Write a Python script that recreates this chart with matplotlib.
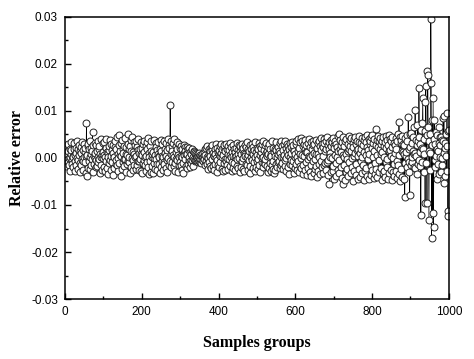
import matplotlib
matplotlib.use("Agg")
import matplotlib.pyplot as plt
import numpy as np
from matplotlib.ticker import MultipleLocator

# relative error per sample group, in units of 1e-4
rel_err_1e4 = [
    12, 5, -18, -3, 25, 8, -9, 14, 30, -1, -15, 2, 20, -27, 9, 34, 16, -5, -12, 4,
    -20, 3, 18, 31, -7, -28, 6, 22, 11, -16, 36, 0, -24, -4, 19, 28, 7, -30, -11, 15,
    24, -14, 10, -2, 33, 17, -26, -6, 29, 1, -8, 13, 21, -33, 4, 74, -38, 6, 26, -21,
    30, -7, 18, 2, -24, 35, 8, -16, 22, -2, 14, 55, -29, 27, -12, 5, 32, 0, 11, -20,
    -5, 28, 15, -18, 37, -9, 3, 20, -3, 26, 9, -31, 1, 40, -14, 6, -26, 12, 31, -1,
    7, -19, 34, 2, -28, -6, 21, 41, 13, -22, 10, 2, -34, 16, 25, -10, 38, -4, 4, 30,
    -25, 17, -8, 27, -36, 11, 3, 1, -21, 24, 36, -13, -4, 19, 45, -15, 8, 0, -27, -11,
    48, 28, 6, 14, -38, 5, 31, -24, 39, -9, 20, 10, -2, 26, -17, 42, -3, 23, -29, 9,
    -13, 7, 30, 52, -6, -8, 18, 3, -33, 25, -19, 38, 15, -1, 44, 12, -26, -5, 33, 9,
    -16, 27, 2, -24, 36, 4, -14, 23, -7, 40, 16, -7, -25, 11, -2, 19, 8, -28, 34, -33,
    22, 6, -11, 29, -4, 13, 37, -16, 1, 5, -27, 25, -9, 33, 18, -20, 43, -35, 11, 3,
    26, -6, 15, 35, -29, 3, -18, 8, 12, -31, 39, -10, 0, 7, -24, 31, -3, 24, 17, -12,
    -26, 9, 33, -13, 5, 1, -32, 20, 38, -19, 14, -7, 30, 5, -25, 2, -8, 36, -12, 19,
    10, -22, 32, 4, -5, -30, 16, 40, -1, 28, -15, 21, -6, 113, 35, 8, -20, 26, -9, 14,
    31, 6, -17, 40, 2, -28, -11, 25, 13, -3, 34, -4, 18, -30, 7, 2, -16, 30, -8, 21,
    -14, 26, 4, -25, 1, 19, -10, -33, 11, 6, 28, -2, 23, 15, -18, 9, -22, 8, 24, -12,
    18, -5, 22, 2, -6, 13, -20, 9, -10, 16, -4, 20, 3, -17, 14, -2, 12, -7, 11, -4,
    -5, 8, -3, 6, 1, -9, 4, 10, -6, 2, -8, 7, -2, 5, -10, 3, 9, -4, 1, -7,
    6, 12, -2, 18, 7, -15, 22, -6, 3, 25, -12, 0, -24, 9, 20, -8, 14, 4, -17, 23,
    -21, 16, -3, 28, 10, -18, 5, 5, -26, 19, -13, 8, 30, -1, -30, 21, -5, 12, -16, 8,
    17, -20, 4, 25, -9, 29, 11, -23, 1, 18, -28, 6, 22, -11, 27, -3, 14, -25, 30, -7,
    0, 20, -15, 9, -24, 26, 16, -3, 31, 7, -18, 2, 23, -27, 12, -8, 28, 5, -21, 19,
    -10, 13, 3, -26, 21, 5, -17, 32, -2, 17, -22, 8, 27, -1, 14, -30, 25, 8, -19, 29,
    -6, 18, -24, 22, 0, 10, -27, 9, 28, 4, -13, 24, -14, 1, 33, -25, 6, 19, -4, 15,
    -18, 27, -31, 2, 20, -4, 11, 30, -22, 9, 23, -8, 16, -28, 3, 34, -19, 12, -7, 21,
    7, -23, 18, -2, 31, -15, 6, 26, -29, 13, 22, -8, 0, 29, -20, 1, 35, -11, 17, -12,
    28, -3, 10, 32, -18, 14, 4, -30, 24, 8, -21, 30, -10, 2, 19, -27, 9, 5, -15, 36,
    -6, 21, -23, 13, -32, 20, 4, -25, 33, -12, 17, 1, -19, 9, 24, -9, 14, -7, 31, -22,
    11, 35, -16, 2, 26, -11, 3, 16, -24, 29, 7, -18, 36, -5, 21, -28, 0, 30, 12, -20,
    25, 6, -35, 18, 3, 32, -13, 24, -4, 10, 34, -16, 19, -6, 28, -31, 15, 2, -22, 9,
    29, -12, 37, 2, -25, 14, 41, -6, 22, -30, 8, 33, -17, 43, 0, -21, 6, 36, -34, 25,
    -15, 30, 4, 20, -26, 38, -9, 27, 12, -36, 13, 31, -2, -22, 4, 40, -29, 24, 1, -14,
    34, -38, 18, 6, 28, -6, 35, -31, 11, 30, -3, -24, 39, 9, -17, 22, -40, 32, 8, -27,
    37, -12, 2, 26, -35, 16, 42, -7, -20, 29, -33, 23, 5, 40, -15, 31, -10, 14, 36, -26,
    20, 44, -8, 28, -4, -37, 18, 33, -56, 10, 3, 38, -30, 25, -1, 34, -28, 42, -18, 27,
    -45, 21, 7, 37, -11, 30, -39, 2, 24, 46, -25, 15, 51, -5, -32, 19, 39, -20, 12, 28,
    -42, 33, 6, -55, 44, -16, 25, 3, -46, 35, 9, -29, 41, -3, -23, 30, 14, -38, 20, 47,
    -8, 26, 38, -31, 14, 43, 0, -19, 32, -48, 23, 5, 40, -27, 10, 45, -13, -36, 29, 17,
    37, -44, 18, 4, 34, -24, 46, 11, -40, 20, 31, -6, -33, 42, 1, -15, 27, -47, 38, 13,
    -28, 44, 7, -21, 33, 24, -39, 48, -2, 17, 40, -45, 8, 29, 36, -18, 45, -37, 22, 49,
    -26, 2, 31, -42, 15, 41, -10, -34, 27, 62, -23, 39, 6, -41, 24, 47, -29, 35, -4, 19,
    43, -22, 30, 9, -46, 37, 12, -33, 44, 1, -27, 26, -40, 34, 21, -8, 46, -19, 38, -3,
    -44, 28, 14, 48, -31, 16, 40, -25, 5, 35, -47, 23, 45, 0, -30, 32, -12, -39, 27, 11,
    42, -28, 18, -6, -43, 37, 50, -15, -35, 77, 6, 44, -48, 31, 39, -24, 14, 47, -41, 29,
    12, -45, 8, 28, -84, -10, 42, 5, 13, 48, -20, 35, -2, 87, 18, -8, -30, -78, 24, 52,
    -15, 53, -8, 32, 2, 15, 45, -20, 8, 65, -22, 102, 10, 38, 5, -35, 28, 70, -12, 35,
    -5, 149, 45, 12, 30, -18, -122, 60, -8, 22, 75, 128, 20, 40, 8, -30, 58, -96, 120, 154,
    -10, 48, -95, 185, 177, 65, 15, -132, 35, 10, -25, 50, 296, 160, -170, 28, 80, -118, 128, -147,
    40, 80, -20, -5, 30, 55, 5, 20, -45, 48, -12, 15, 32, -35, 66, 45, 2, 28, -30, 45,
    -15, 38, 0, 35, 84, -53, 89, 10, 22, -38, 32, 5, 50, -28, 95, 25, -113, -123, 58, 60,
]
samples = np.arange(1, len(rel_err_1e4) + 1)
rel_err = np.array(rel_err_1e4) * 1e-4

fig = plt.figure(figsize=(4.74, 3.59), dpi=100)
ax = fig.add_axes([0.137, 0.167, 0.810, 0.786])

ax.plot(samples, rel_err, "-", color="black", lw=0.5,
        marker="o", ms=5, mfc="white", mec="#222222", mew=0.7)

ax.set_xlim(0, 1000)
ax.set_ylim(-0.03, 0.03)
ax.xaxis.set_major_locator(MultipleLocator(200))
ax.xaxis.set_minor_locator(MultipleLocator(100))
ax.yaxis.set_major_locator(MultipleLocator(0.01))
ax.yaxis.set_minor_locator(MultipleLocator(0.005))
ax.yaxis.set_major_formatter(plt.FuncFormatter(lambda v, p: f"{v:.2f}"))

ax.tick_params(which="both", direction="in", width=1.0, labelsize=8.5)
ax.tick_params(which="major", length=4.5, pad=5)
ax.tick_params(which="minor", length=2.5)
for lab in ax.get_xticklabels() + ax.get_yticklabels():
    lab.set_fontfamily("Liberation Sans")
for s in ax.spines.values():
    s.set_linewidth(1.1)

ax.set_xlabel("Samples groups", fontfamily="Liberation Serif",
              fontweight="bold", fontsize=11.5, labelpad=12)
ax.set_ylabel("Relative error", fontfamily="Liberation Serif",
              fontweight="bold", fontsize=11.5, labelpad=4)

fig.savefig("out.png", dpi=100)
